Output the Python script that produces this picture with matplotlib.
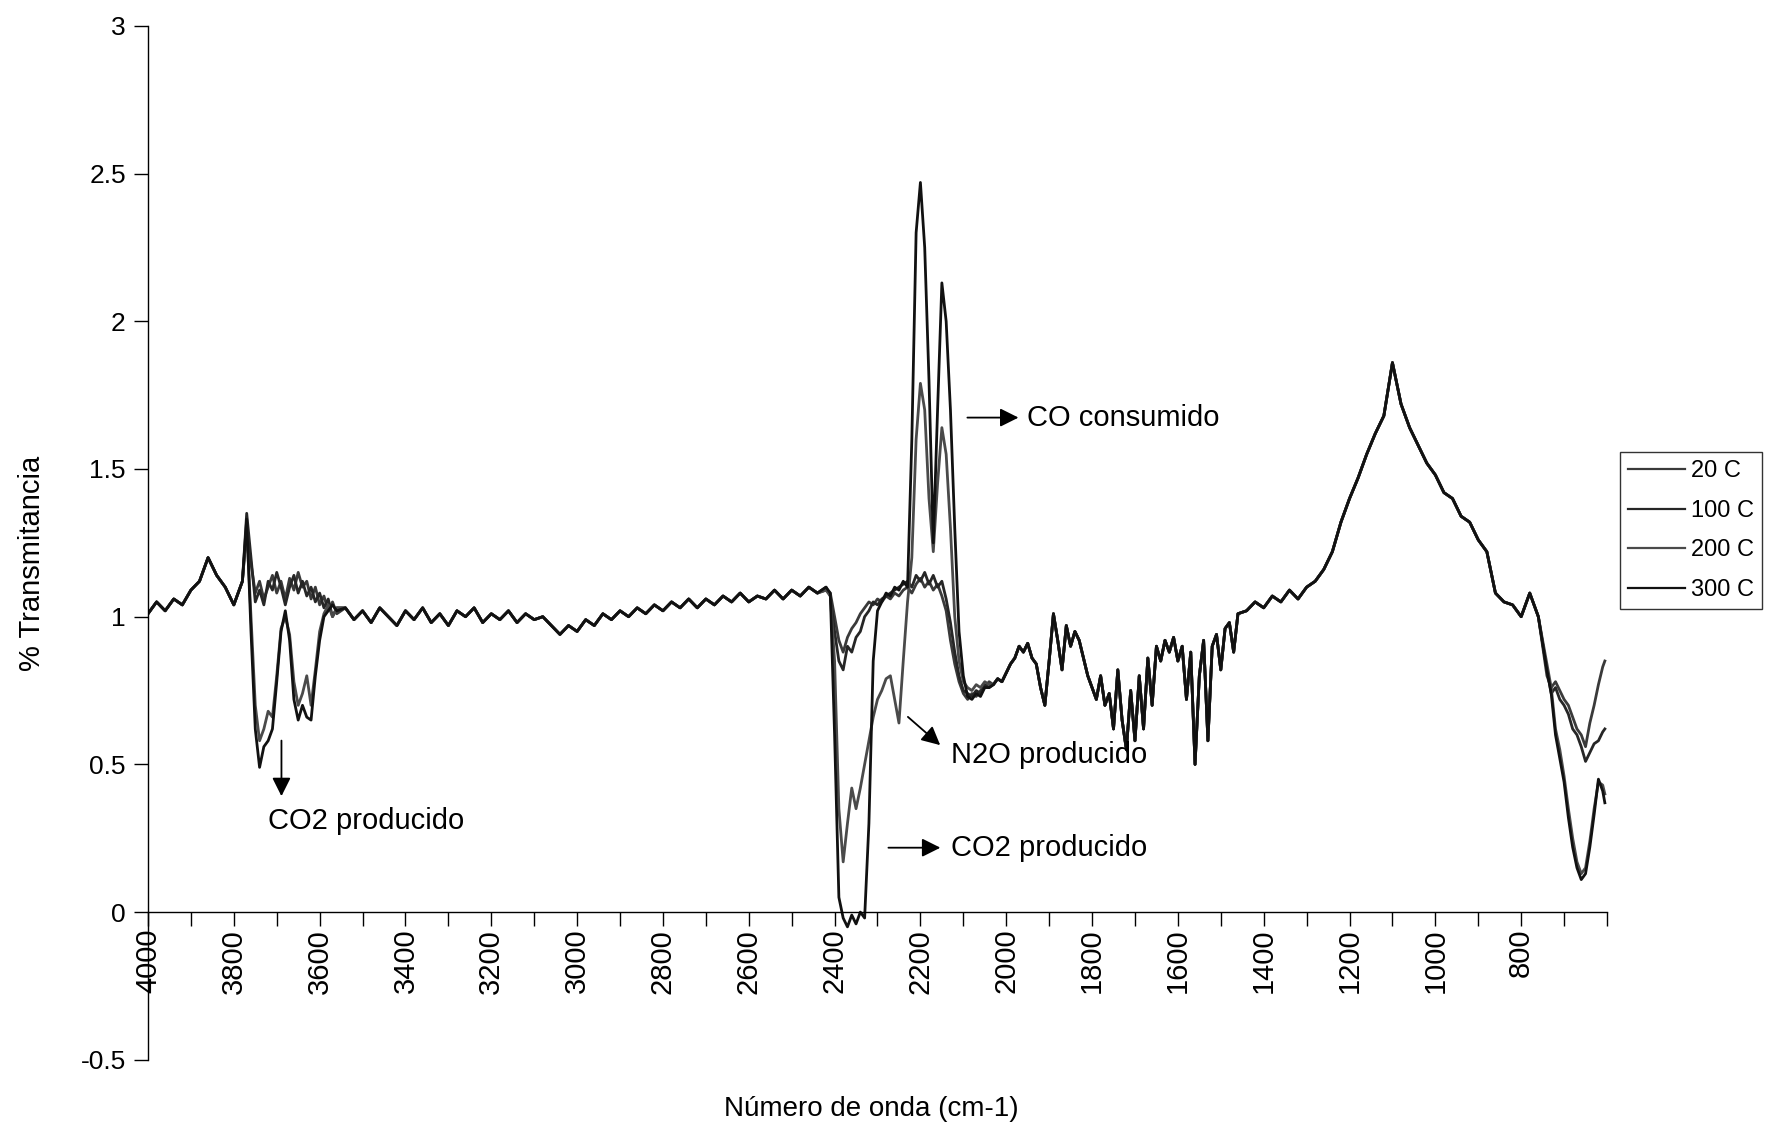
import numpy as np
import matplotlib
matplotlib.use('Agg')
import matplotlib.pyplot as plt

plt.rcParams['font.family'] = ['Liberation Sans', 'DejaVu Sans']

# numero de onda (cm-1) -- tramos de muestreo
x_a = np.arange(4000, 3779, -20)
x_b = np.arange(3770, 3559, -10)
x_c = np.arange(3540, 2439, -20)
x_d = np.arange(2420, 2039, -10)
x_e1 = np.arange(2030, 1459, -10)
x_e2 = np.arange(1440, 759, -20)
x_f = [740, 730, 720, 710, 700, 690, 680, 670, 660, 650, 640, 630, 620, 610, 605]

# tramo comun 4000-3780
y_a = [1.01, 1.05, 1.02, 1.06, 1.04, 1.09, 1.12, 1.20, 1.14, 1.10, 1.04, 1.12]

# zona CO2 3770-3560
y_b_20 = [1.30, 1.18, 1.08, 1.12, 1.06, 1.10, 1.14, 1.08, 1.12, 1.06, 1.13,
          1.09, 1.15, 1.10, 1.12, 1.06, 1.10, 1.04, 1.07, 1.02, 1.05, 1.01]
y_b_100 = [1.35, 1.20, 1.05, 1.09, 1.04, 1.12, 1.09, 1.15, 1.10, 1.04, 1.10,
           1.14, 1.08, 1.12, 1.07, 1.10, 1.05, 1.08, 1.03, 1.06, 1.00, 1.03]
y_b_200 = [1.30, 1.00, 0.70, 0.58, 0.62, 0.68, 0.66, 0.80, 0.96, 1.00, 0.94,
           0.78, 0.70, 0.74, 0.80, 0.70, 0.82, 0.95, 1.01, 1.04, 1.00, 1.03]
y_b_300 = [1.33, 0.95, 0.62, 0.49, 0.56, 0.58, 0.62, 0.78, 0.95, 1.02, 0.92,
           0.72, 0.65, 0.70, 0.66, 0.65, 0.80, 0.92, 1.00, 1.02, 1.04, 1.02]

# tramo comun 3540-2440
y_c = [1.03, 0.99, 1.02, 0.98, 1.03, 1.00, 0.97, 1.02, 0.99, 1.03, 0.98, 1.01,
       0.97, 1.02, 1.00, 1.03, 0.98, 1.01, 0.99, 1.02, 0.98, 1.01, 0.99,
       1.00, 0.97, 0.94, 0.97, 0.95, 0.99, 0.97, 1.01, 0.99, 1.02, 1.00, 1.03,
       1.01, 1.04, 1.02, 1.05, 1.03, 1.06, 1.03, 1.06, 1.04, 1.07, 1.05, 1.08,
       1.05, 1.07, 1.06, 1.09, 1.06, 1.09, 1.07, 1.10, 1.08]

# zona CO2 / N2O / CO 2420-2040
y_d_20 = [1.09, 1.08, 1.00, 0.92, 0.88, 0.93, 0.96, 0.98, 1.01, 1.03,
          1.05, 1.04, 1.06, 1.05, 1.07, 1.06, 1.08, 1.07, 1.09, 1.10,
          1.08, 1.11, 1.13, 1.10, 1.12, 1.09, 1.11, 1.07, 1.02, 0.92,
          0.84, 0.78, 0.74, 0.72, 0.74, 0.73, 0.75, 0.76, 0.78]
y_d_100 = [1.10, 1.07, 0.95, 0.85, 0.82, 0.90, 0.88, 0.93, 0.95, 1.00,
           1.02, 1.05, 1.04, 1.06, 1.07, 1.08, 1.09, 1.10, 1.11, 1.12,
           1.10, 1.14, 1.12, 1.15, 1.11, 1.14, 1.10, 1.12, 1.06, 0.98,
           0.88, 0.80, 0.75, 0.74, 0.73, 0.75, 0.74, 0.77, 0.76]
y_d_200 = [1.09, 1.07, 0.85, 0.35, 0.17, 0.30, 0.42, 0.35, 0.42, 0.50,
           0.58, 0.66, 0.72, 0.75, 0.79, 0.80, 0.72, 0.64, 0.85, 1.05,
           1.20, 1.60, 1.79, 1.70, 1.40, 1.22, 1.45, 1.64, 1.55, 1.30,
           1.00, 0.85, 0.78, 0.76, 0.75, 0.77, 0.76, 0.78, 0.77]
y_d_300 = [1.10, 1.08, 0.60, 0.05, -0.02, -0.05, -0.01, -0.04, 0.00, -0.02,
           0.30, 0.85, 1.02, 1.05, 1.08, 1.07, 1.10, 1.09, 1.12, 1.10,
           1.60, 2.30, 2.47, 2.25, 1.80, 1.25, 1.70, 2.13, 2.00, 1.70,
           1.30, 0.95, 0.80, 0.73, 0.72, 0.74, 0.73, 0.76, 0.76]

# tramo comun 2030-760
y_e1 = [0.77, 0.79, 0.78, 0.81, 0.84, 0.86, 0.90, 0.88, 0.91, 0.86,
        0.84, 0.76, 0.70, 0.85, 1.01, 0.92, 0.82, 0.97, 0.90, 0.95,
        0.92, 0.86, 0.80, 0.76, 0.72, 0.80, 0.70, 0.74, 0.62, 0.82,
        0.65, 0.55, 0.75, 0.58, 0.80, 0.62, 0.86, 0.70, 0.90, 0.85,
        0.92, 0.88, 0.93, 0.85, 0.90, 0.72, 0.88, 0.50, 0.80, 0.92,
        0.58, 0.90, 0.94, 0.82, 0.96, 0.98, 0.88, 1.01]
y_e2 = [1.02, 1.05, 1.03, 1.07, 1.05, 1.09, 1.06, 1.10, 1.12, 1.16,
        1.22, 1.32, 1.40, 1.47, 1.55, 1.62, 1.68, 1.86, 1.72, 1.64,
        1.58, 1.52, 1.48, 1.42, 1.40, 1.34, 1.32, 1.26, 1.22, 1.08,
        1.05, 1.04, 1.00, 1.08, 1.00]

# final 740-605
y_f_20 = [0.80, 0.76, 0.78, 0.75, 0.72, 0.70, 0.66, 0.62, 0.60, 0.56, 0.64, 0.70, 0.77, 0.83, 0.85]
y_f_100 = [0.82, 0.74, 0.76, 0.72, 0.70, 0.67, 0.62, 0.60, 0.56, 0.51, 0.54, 0.57, 0.58, 0.61, 0.62]
y_f_200 = [0.84, 0.76, 0.62, 0.55, 0.46, 0.35, 0.25, 0.17, 0.13, 0.15, 0.24, 0.35, 0.44, 0.43, 0.40]
y_f_300 = [0.82, 0.74, 0.60, 0.52, 0.44, 0.32, 0.22, 0.15, 0.11, 0.13, 0.22, 0.33, 0.45, 0.41, 0.37]

labels = ['20 C', '100 C', '200 C', '300 C']
colors = ['#3a3a3a', '#262626', '#4a4a4a', '#111111']

y_ticks = [-0.5, 0, 0.5, 1, 1.5, 2, 2.5, 3]
y_ticklabels = ['-0.5', '0', '0.5', '1', '1.5', '2', '2.5', '3']
x_ticks = list(range(4000, 799, -200))

wn = np.concatenate([x_a, x_b, x_c, x_d, x_e1, x_e2, x_f])
series = [
    y_a + y_b_20 + y_c + y_d_20 + y_e1 + y_e2 + y_f_20,
    y_a + y_b_100 + y_c + y_d_100 + y_e1 + y_e2 + y_f_100,
    y_a + y_b_200 + y_c + y_d_200 + y_e1 + y_e2 + y_f_200,
    y_a + y_b_300 + y_c + y_d_300 + y_e1 + y_e2 + y_f_300,
]

fig = plt.figure(figsize=(17.74, 11.26), dpi=100)
ax = fig.add_axes([148 / 1774, 0.0588, (1607 - 148) / 1774, 0.977 - 0.0588])

for ys, lab, c in zip(series, labels, colors):
    ax.plot(wn, ys, color=c, lw=2.0, label=lab)

ax.set_xlim(4000, 600)
ax.set_ylim(-0.5, 3)

ax.spines['top'].set_visible(False)
ax.spines['right'].set_visible(False)
ax.spines['bottom'].set_position(('data', 0))
ax.spines['left'].set_linewidth(1.0)
ax.spines['bottom'].set_linewidth(1.0)

ax.set_yticks(y_ticks, y_ticklabels)
ax.tick_params(axis='y', direction='out', length=10, width=1, labelsize=19, pad=6)
ax.set_xticks(x_ticks, [str(v) for v in x_ticks])
ax.set_xticks(list(range(3900, 599, -200)) + [600], minor=True)
ax.tick_params(axis='x', which='both', direction='out', length=10, width=1)
ax.tick_params(axis='x', labelsize=21, labelrotation=90, pad=2)

fig.text(871 / 1774, 1 - 1109 / 1126, 'Número de onda (cm-1)', ha='center', va='center', fontsize=20)
fig.text(32 / 1774, 1 - 563 / 1126, '% Transmitancia', ha='center', va='center', rotation=90, fontsize=21)

arrow = dict(arrowstyle='-|>', color='black', lw=1.3, mutation_scale=28)
ax.annotate('', xy=(1965, 1.674), xytext=(2097, 1.674), arrowprops=arrow)
ax.text(1951, 1.674, 'CO consumido', ha='left', va='center', fontsize=21)
ax.annotate('', xy=(2149, 0.559), xytext=(2234, 0.667), arrowprops=arrow)
ax.text(2128, 0.533, 'N2O producido', ha='left', va='center', fontsize=21)
ax.annotate('', xy=(2147, 0.218), xytext=(2281, 0.218), arrowprops=arrow)
ax.text(2128, 0.218, 'CO2 producido', ha='left', va='center', fontsize=21)
ax.annotate('', xy=(3689, 0.383), xytext=(3689, 0.59), arrowprops=arrow)
ax.text(3720, 0.307, 'CO2 producido', ha='left', va='center', fontsize=21)

leg = fig.legend(loc='upper left', bbox_to_anchor=(1608 / 1774, 1 - 440 / 1126),
                 fontsize=17, frameon=True, fancybox=False, handlelength=2.4,
                 handletextpad=0.25, labelspacing=0.75, borderpad=0.35)
leg.get_frame().set_edgecolor('black')
leg.get_frame().set_linewidth(1.0)
for ln in leg.get_lines():
    ln.set_linewidth(1.6)

fig.savefig('out.png', dpi=100, facecolor='white')
